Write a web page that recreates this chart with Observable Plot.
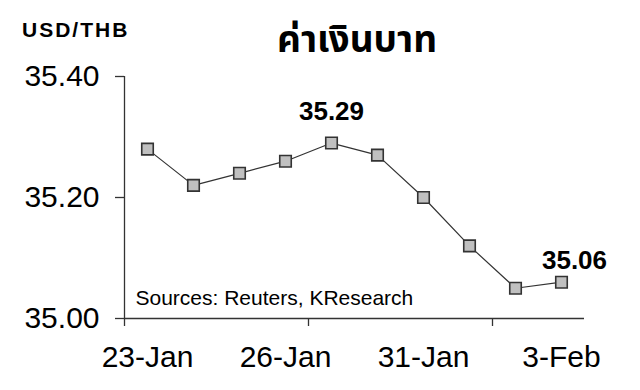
<!DOCTYPE html>
<html><head><meta charset="utf-8">
<script src="https://cdn.jsdelivr.net/npm/d3@7"></script>
<script src="https://cdn.jsdelivr.net/npm/@observablehq/plot@0.6"></script>
<style>
body{margin:0;background:#fff;}
#wrap{position:relative;width:640px;height:390px;font-family:Arial,"Liberation Sans",sans-serif;color:#000;}
#unit{position:absolute;left:22px;top:19px;font-weight:bold;font-size:21px;letter-spacing:2px;line-height:1;}
#title{position:absolute;left:357px;top:19px;transform:translateX(-50%);font-weight:bold;font-size:37px;line-height:1.2;white-space:nowrap;font-family:"Noto Sans Thai","Noto Sans Thai UI",Tahoma,"Leelawadee UI",sans-serif;}
#chart{position:absolute;left:0;top:0;}
</style></head>
<body><div id="wrap"><div id="chart"></div><div id="unit">USD/THB</div><div id="title">ค่าเงินบาท</div></div>
<script>
const dates = ["23-Jan","24-Jan","25-Jan","26-Jan","27-Jan","30-Jan","31-Jan","1-Feb","2-Feb","3-Feb"];
const values = [35.28,35.22,35.24,35.26,35.29,35.27,35.20,35.12,35.05,35.06];
const yTicks = [35.00,35.20,35.40];
const labeledDates = ["23-Jan","26-Jan","31-Jan","3-Feb"];
const annotatedDates = ["27-Jan","3-Feb"];
const source = "Sources: Reuters, KResearch";

const data = dates.map((d,i)=>({i, date:d, value:values[i]}));
const labelIdx = labeledDates.map(d=>dates.indexOf(d));
const boundaryIdx = [0,4,8].map(i=>i-0.5);
const ann = annotatedDates.map(d=>data[dates.indexOf(d)]);

const ink = "#333";
const plot = Plot.plot({
  width:640, height:390,
  marginLeft:124, marginRight:56, marginTop:76, marginBottom:72,
  style:{fontFamily:"Arial, 'Liberation Sans', sans-serif", background:"#fff", color:"#000", overflow:"visible"},
  x:{domain:[-0.5, dates.length-0.5], label:null},
  y:{domain:[35.0, 35.4], label:null},
  marks:[
    Plot.axisY({ticks:yTicks, tickSize:9, tickPadding:16, tickFormat:d=>d.toFixed(2), fontSize:30, stroke:ink, fill:"#000", strokeWidth:1.3, label:null}),
    Plot.axisX({ticks:labelIdx, tickSize:0, tickPadding:27, tickFormat:i=>dates[i], fontSize:30, fill:"#000", label:null}),
    Plot.axisX({ticks:boundaryIdx, tickSize:8, tickFormat:()=>"", stroke:ink, strokeWidth:1.3, label:null}),
    Plot.ruleX([-0.5], {stroke:ink, strokeWidth:1.3}),
    Plot.ruleY([35.0], {stroke:ink, strokeWidth:1.3}),
    Plot.line(data, {x:"i", y:"value", stroke:ink, strokeWidth:1.2}),
    Plot.dot(data, {x:"i", y:"value", symbol:"square", r:6.5, fill:"#c0c0c0", stroke:ink, strokeWidth:1.6}),
    Plot.text([ann[0]], {x:"i", y:"value", text:d=>d.value.toFixed(2), fontWeight:"bold", fontSize:26, dy:-31, fill:"#000"}),
    Plot.text([ann[1]], {x:"i", y:"value", text:d=>d.value.toFixed(2), fontWeight:"bold", fontSize:26, dx:13, dy:-22, fill:"#000"}),
    Plot.text([source], {frameAnchor:"bottom-left", dx:11, dy:-14, textAnchor:"start", lineAnchor:"bottom", fontSize:21, fill:"#000"})
  ]
});
document.getElementById("chart").appendChild(plot);
</script></body></html>
